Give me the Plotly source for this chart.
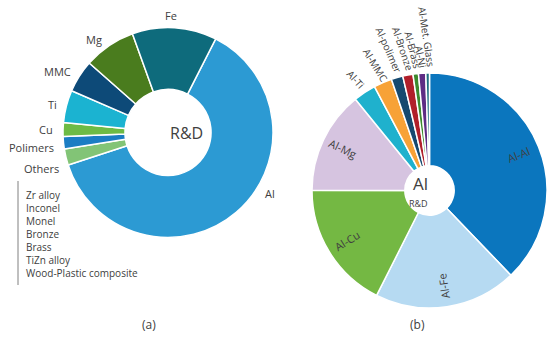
import math
import plotly.graph_objects as go

# ---------------- data ----------------
rd_labels = ["Al", "Others", "Polimers", "Cu", "Ti", "MMC", "Mg", "Fe"]
rd_values = [62.5, 2.5, 1.9, 2.1, 5.0, 5.0, 8.0, 13.0]
rd_colors = ["#2C9AD3", "#82C476", "#1B7DC3", "#6DBB45", "#1BB3D1", "#0D4A78", "#4A7C1E", "#0E6B7C"]

others_list = ["Zr alloy", "Inconel", "Monel", "Bronze", "Brass", "TiZn alloy", "Wood-Plastic composite"]

al_labels = ["Al-Al", "Al-Fe", "Al-Cu", "Al-Mg", "Al-Ti", "Al-MMC", "Al-polimer",
             "Al-Bronze", "Al-Brass", "Al-Ni", "Al-Met. Glass"]
al_values = [37.8, 19.6, 17.6, 14.1, 3.1, 2.5, 1.6, 1.4, 0.75, 1.0, 0.5]
al_colors = ["#0B76BE", "#B6DAF2", "#74B843", "#D6C4E0", "#1FB1CD", "#F7A237", "#16496F",
             "#B01F2A", "#3C8A2E", "#5E2C84", "#1E6E80"]

panel_titles = ["(a)", "(b)"]

# ---------------- styling / layout ----------------
W, H = 550, 348
FONT = "Open Sans"
TXT = "#404040"

A_CX, A_CY, A_R, A_ROT = 168, 132.5, 105, 27
B_CX, B_CY, B_R, B_ROT = 429.5, 190.5, 117.5, 0
A_LABEL_NUDGE = [-17, -5, -2, 0, 0, 0, 0, -2]   # degrees, label placement only
B_INSIDE = 4                                    # first slices labelled inside


def dom(cx, cy, r):
    return dict(x=[(cx - r) / W, (cx + r) / W], y=[1 - (cy + r) / H, 1 - (cy - r) / H])


def mid_angles(values, rot):
    tot = float(sum(values))
    out, c = [], 0.0
    for v in values:
        out.append(rot + 360.0 * (c + v / 2) / tot)
        c += v
    return out


def pt(cx, cy, r, ang):
    a = math.radians(ang)
    return cx + r * math.sin(a), cy - r * math.cos(a)


fig = go.Figure()
fig.add_trace(go.Pie(
    labels=rd_labels, values=rd_values, sort=False, direction="clockwise", rotation=A_ROT,
    hole=0.41, domain=dom(A_CX, A_CY, A_R),
    marker=dict(colors=rd_colors, line=dict(color="white", width=1.5)),
    textinfo="none", showlegend=False, hoverinfo="label+value",
))
fig.add_trace(go.Pie(
    labels=al_labels, values=al_values, sort=False, direction="clockwise", rotation=B_ROT,
    hole=0.21, domain=dom(B_CX, B_CY, B_R),
    marker=dict(colors=al_colors, line=dict(color="white", width=1.5)),
    textinfo="none", showlegend=False, hoverinfo="label+value",
))

annotations = []


def add_text(px, py, text, size, **kw):
    d = dict(x=px / W, y=1 - py / H, xref="paper", yref="paper", text=text, showarrow=False,
             font=dict(family=FONT, size=size, color=TXT))
    d.update(kw)
    annotations.append(d)


# (a) outside labels
for lab, m, nd in zip(rd_labels, mid_angles(rd_values, A_ROT), A_LABEL_NUDGE):
    ang = (m + nd) % 360
    s, c = math.sin(math.radians(ang)), math.cos(math.radians(ang))
    xa = "right" if s < -0.3 else ("left" if s > 0.3 else "center")
    ya = "bottom" if c > 0.9 else ("top" if c < -0.9 else "middle")
    px, py = pt(A_CX, A_CY, A_R + (3 if ya != "middle" else 8), ang)
    add_text(px, py, lab, 11, xanchor=xa, yanchor=ya)

# (b) labels
for i, (lab, m) in enumerate(zip(al_labels, mid_angles(al_values, B_ROT))):
    if i < B_INSIDE:
        px, py = pt(B_CX, B_CY, B_R * 0.82, m)
        t = m - 90
        if t > 75:
            t -= 180
        add_text(px, py, lab, 11, textangle=t, xanchor="center", yanchor="middle")
    else:
        L = len(lab) * 5.0
        px, py = pt(B_CX, B_CY, B_R + 4 + L / 2, m)
        add_text(px, py, lab, 10, textangle=m - 270 - 8, xanchor="center", yanchor="middle")

# centre texts
add_text(A_CX, A_CY, "R&D", 16)
add_text(B_CX, B_CY - 7, "Al", 17)
add_text(B_CX, B_CY + 13, "R&D", 9)

# "Others" breakdown list
add_text(24, 186, "<br>".join(others_list), 10, align="left", xanchor="left", yanchor="top")

# panel captions
add_text(140, 335, panel_titles[0], 12)
add_text(427, 335, panel_titles[1], 12)

fig.update_layout(
    width=W, height=H, margin=dict(l=0, r=0, t=0, b=0),
    paper_bgcolor="white", plot_bgcolor="white",
    annotations=annotations,
    shapes=[dict(type="line", xref="paper", yref="paper", x0=18 / W, x1=18 / W,
                 y0=1 - 181 / H, y1=1 - 285 / H, line=dict(color="#808080", width=1))],
)

fig.write_html("out.html", config={"displayModeBar": False},
               post_script="document.body.style.margin='0';")
